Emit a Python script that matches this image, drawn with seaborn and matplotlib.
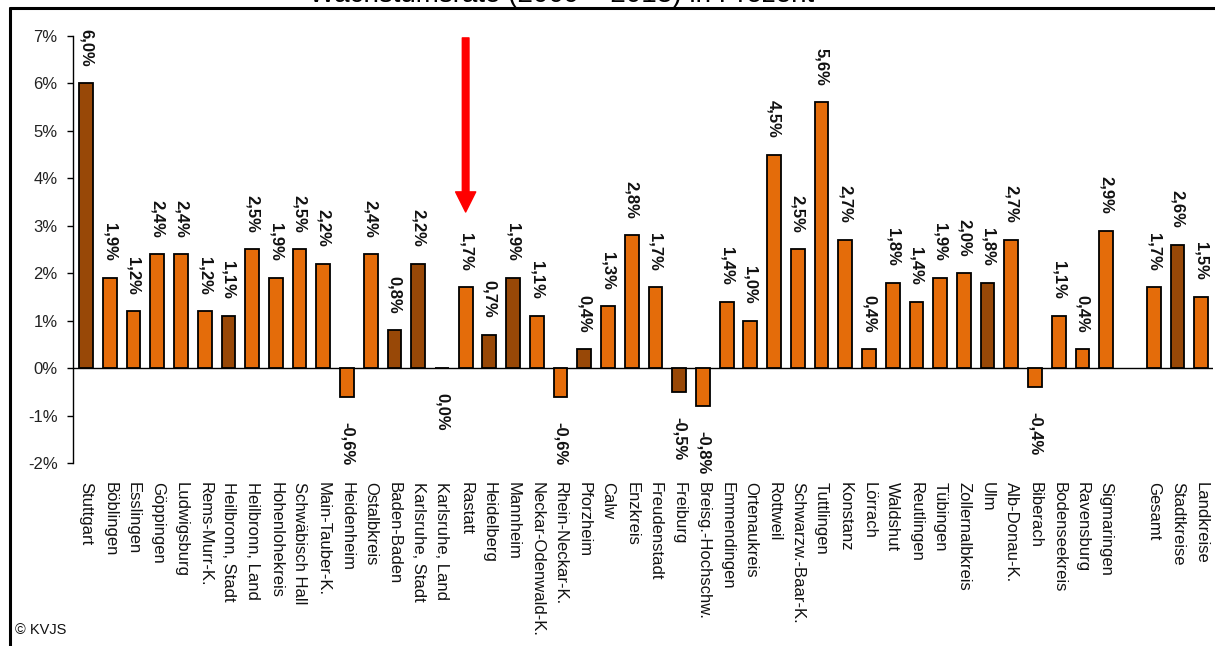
import matplotlib
matplotlib.use("Agg")
import matplotlib.pyplot as plt
from matplotlib.lines import Line2D
from matplotlib.ticker import FuncFormatter
import pandas as pd
import seaborn as sns

# Growth rate by district (Stadtkreise marked separately), 2009-2013
districts = [
    "Stuttgart", "Böblingen", "Esslingen", "Göppingen", "Ludwigsburg",
    "Rems-Murr-K.", "Heilbronn, Stadt", "Heilbronn, Land", "Hohenlohekreis",
    "Schwäbisch Hall", "Main-Tauber-K.", "Heidenheim", "Ostalbkreis",
    "Baden-Baden", "Karlsruhe, Stadt", "Karlsruhe, Land", "Rastatt",
    "Heidelberg", "Mannheim", "Neckar-Odenwald-K.", "Rhein-Neckar-K.",
    "Pforzheim", "Calw", "Enzkreis", "Freudenstadt", "Freiburg",
    "Breisg.-Hochschw.", "Emmendingen", "Ortenaukreis", "Rottweil",
    "Schwarzw.-Baar-K.", "Tuttlingen", "Konstanz", "Lörrach", "Waldshut",
    "Reutlingen", "Tübingen", "Zollernalbkreis", "Ulm", "Alb-Donau-K.",
    "Biberach", "Bodenseekreis", "Ravensburg", "Sigmaringen",
]
district_growth = [
    6.0, 1.9, 1.2, 2.4, 2.4,
    1.2, 1.1, 2.5, 1.9,
    2.5, 2.2, -0.6, 2.4,
    0.8, 2.2, 0.0, 1.7,
    0.7, 1.9, 1.1, -0.6,
    0.4, 1.3, 2.8, 1.7, -0.5,
    -0.8, 1.4, 1.0, 4.5,
    2.5, 5.6, 2.7, 0.4, 1.8,
    1.4, 1.9, 2.0, 1.8, 2.7,
    -0.4, 1.1, 0.4, 2.9,
]
summary = ["Gesamt", "Stadtkreise", "Landkreise"]
summary_growth = [1.7, 2.6, 1.5]
city_districts = [
    "Stuttgart", "Heilbronn, Stadt", "Baden-Baden", "Karlsruhe, Stadt",
    "Heidelberg", "Mannheim", "Pforzheim", "Freiburg", "Ulm", "Stadtkreise",
]
y_ticks = [-2, -1, 0, 1, 2, 3, 4, 5, 6, 7]

ORANGE = "#E46C0A"
BROWN = "#984807"

spacer = " "
order = districts + [spacer] + summary
df = pd.DataFrame({
    "name": districts + summary,
    "growth": district_growth + summary_growth,
})
df["kind"] = ["Stadtkreis" if n in city_districts else "Landkreis" for n in df["name"]]

sns.set_style("white")
plt.rcParams["font.family"] = ["Liberation Sans", "DejaVu Sans"]

fig = plt.figure(figsize=(12.15, 6.46), dpi=100)
ax = fig.add_axes([73 / 1215, 1 - 463 / 646, (1213 - 73) / 1215, 427 / 646])

sns.barplot(
    data=df, x="name", y="growth", hue="kind", order=order,
    hue_order=["Landkreis", "Stadtkreis"],
    palette={"Landkreis": ORANGE, "Stadtkreis": BROWN}, saturation=1,
    dodge=False, width=0.58, errorbar=None, edgecolor="black",
    linewidth=1.3, legend=False, ax=ax, zorder=3,
)

ax.axhline(0, color="black", lw=1.0, zorder=2)

# value labels, rotated, above positive bars and below negative ones
pos = {n: i for i, n in enumerate(order)}
for name, val in zip(df["name"], df["growth"]):
    txt = f"{val:.1f}".replace(".", ",") + "%"
    if val > 0:
        ax.annotate(txt, (pos[name], val), xytext=(0, 12), textcoords="offset points",
                    rotation=-90, ha="center", va="bottom", fontsize=12,
                    fontweight="bold", color="#111111")
    else:
        ax.annotate(txt, (pos[name], val), xytext=(0, -18), textcoords="offset points",
                    rotation=-90, ha="center", va="top", fontsize=12,
                    fontweight="bold", color="#111111")

ax.set_xlim(-0.55, len(order) - 0.5)
ax.set_ylim(-2, 7)
ax.set_yticks(y_ticks)
ax.yaxis.set_major_formatter(FuncFormatter(lambda v, _: f"{int(round(v))}%"))
ax.set_xlabel("")
ax.set_ylabel("")

for side in ("top", "right", "bottom"):
    ax.spines[side].set_visible(False)
ax.spines["left"].set_color("black")
ax.spines["left"].set_linewidth(1.0)

ax.tick_params(axis="y", direction="out", length=4, width=1, color="black",
               pad=7, labelsize=12, labelcolor="#222222", left=True)
ax.tick_params(axis="x", length=0, pad=14, labelsize=12, labelcolor="#111111")
plt.setp(ax.get_xticklabels(), rotation=-90, ha="center", va="top")

# red marker arrow pointing at Rastatt
ax.annotate("", xy=(pos["Rastatt"], 3.29), xytext=(pos["Rastatt"], 6.96),
            arrowprops=dict(color="#FF0000", width=4.8, headwidth=14.5,
                            headlength=14.5, shrink=0), zorder=5)

# frame and heading
fig.add_artist(Line2D([10 / 1215, 1], [1 - 7.5 / 646, 1 - 7.5 / 646],
                      color="black", lw=2.2, transform=fig.transFigure))
fig.add_artist(Line2D([10.5 / 1215, 10.5 / 1215], [1 - 7.5 / 646, 0],
                      color="black", lw=2.2, transform=fig.transFigure))
fig.text(562 / 1215, 1 - 1.5 / 646, "Wachstumsrate (2009 – 2013) in Prozent",
         ha="center", va="baseline", fontsize=20, color="black")
fig.text(15 / 1215, 1 - 630 / 646, "© KVJS", ha="left", va="center",
         fontsize=10.5, color="#111111")

fig.savefig("out.png", dpi=100)
